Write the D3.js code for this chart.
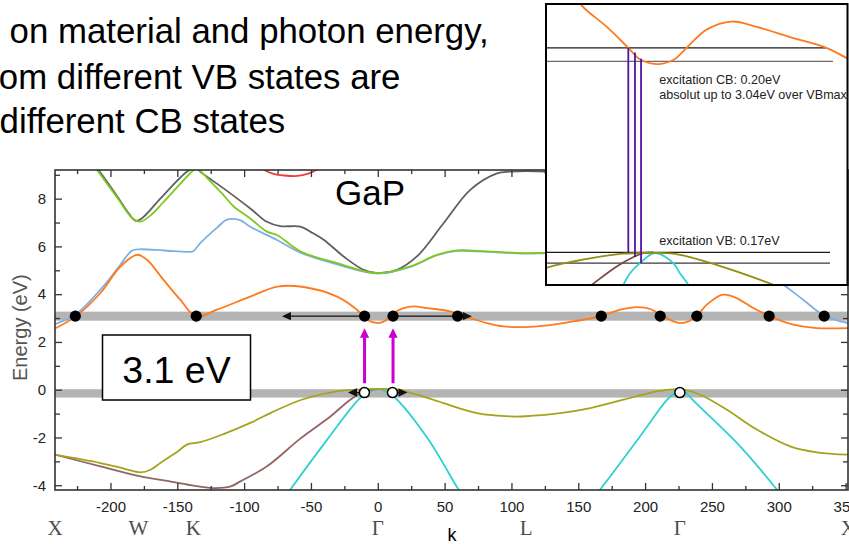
<!DOCTYPE html>
<html>
<head>
<meta charset="utf-8">
<script src="https://cdn.jsdelivr.net/npm/d3@7"></script>
<style>
  html, body { margin: 0; padding: 0; background: #fff; overflow: hidden; }
  svg { display: block; }
  text { font-family: "Liberation Sans", Arial, Helvetica, sans-serif; }
</style>
</head>
<body>
<svg id="chart" width="849" height="544"></svg>
<script>
// ---------------- data ----------------
// Headline (the slide text runs off the left edge of the page)
const headlineLines = [
  "Depending on material and photon energy,",
  "electrons from different VB states are",
  "excited to different CB states"
];
const headlineHiddenChars = [10, 12, 11];

// Axis ticks
const kMajorTicks = [-200, -150, -100, -50, 0, 50, 100, 150, 200, 250, 300, 350];
const kMinorTicks = [-225, -175, -125, -75, -25, 25, 75, 125, 175, 225, 275, 325];
const energyMajorTicks = [-4, -2, 0, 2, 4, 6, 8];
const energyMinorTicks = [-3, -1, 1, 3, 5, 7, 9];

// High-symmetry points along the k path
const symmetryLabels = ["X", "W", "K", "Γ", "L", "Γ", "X"];
const symmetryK = [-241.5, -179, -138, 0, 111, 226, 352];

// Band structure of GaP, [k, energy in eV]
const bandRed = [[-95, 9.6], [-85, 9.2], [-78, 9.04], [-70, 8.97], [-60, 8.95], [-52, 9.05], [-46, 9.2], [-40, 9.45]];
const bandGray = [[-215, 9.6], [-209, 9.2], [-195, 8.1], [-186, 7.35], [-181, 7.07], [-176, 7.2], [-162.7, 8.0], [-142.8, 9.13], [-136, 9.3],
  [-132.8, 9.13], [-115.4, 8.43], [-95.4, 7.59], [-83, 7.03], [-73, 6.85], [-58, 6.83], [-50, 6.6], [-40.5, 6.28], [-25.6, 5.58],
  [-10.6, 5.02], [0, 4.88], [14.4, 5.02], [29.3, 5.58], [49.2, 6.97], [69.2, 8.37], [89.2, 9.06], [99, 9.13], [126, 9.13],
  [150, 9.0], [180, 7.5], [205, 5.6], [226, 4.88], [248, 5.6], [275, 7.4], [305, 8.6], [352, 9.1]];
const bandGreen = [[-215, 9.6], [-210, 9.2], [-195, 8.05], [-184, 7.2], [-177.6, 7.04], [-170, 7.3], [-160.3, 7.86], [-137.8, 9.2], [-135, 9.3],
  [-132, 9.12], [-115.4, 8.15], [-107.8, 7.67], [-95.4, 7.17], [-82.9, 6.62], [-75.4, 6.48], [-58, 5.8], [-30.5, 5.3], [0, 4.88],
  [24.3, 5.16], [44.3, 5.65], [59.2, 5.83], [81.7, 5.79], [109, 5.72], [136.5, 5.72], [165, 5.55], [200, 5.1], [226, 4.88],
  [255, 5.5], [290, 6.3], [352, 6.6]];
const bandBlue = [[-241.5, 2.75], [-226, 3.15], [-207.5, 4.19], [-195, 5.05], [-184, 5.82], [-178, 5.88], [-160, 5.83], [-141.5, 5.77],
  [-138, 5.8], [-132.8, 6.14], [-120, 6.8], [-112.8, 7.12], [-103, 7.1], [-95.4, 6.82], [-75.4, 6.27], [-58, 5.74], [-30.5, 5.25],
  [0, 4.86], [24.3, 5.14], [44.3, 5.63], [59.2, 5.81], [81.7, 5.77], [109, 5.7], [136.5, 5.7], [170, 5.4], [200, 5.0], [226, 4.86],
  [250, 5.1], [275, 5.1], [292, 4.8], [301.6, 4.47], [318, 3.78], [334, 3.1], [352, 2.79]];
const bandOrange = [[-241.5, 2.56], [-226, 3.07], [-207.5, 4.05], [-192.6, 5.16], [-180, 5.65], [-172.7, 5.44], [-160.3, 4.6],
  [-147.8, 3.77], [-136, 3.07], [-120.4, 3.35], [-95.4, 3.9], [-75, 4.32], [-55.5, 4.3], [-30.5, 3.9], [-15.6, 3.35], [-8.1, 2.93],
  [0.6, 2.79], [6.9, 2.93], [11.8, 3.21], [19.3, 3.42], [26.8, 3.49], [36.8, 3.42], [54.2, 3.28], [69.2, 3.0], [81.7, 2.79],
  [94.1, 2.65], [110, 2.62], [125, 2.68], [146.4, 2.86], [166.4, 3.07], [181.4, 3.35], [193.9, 3.46], [204, 3.38], [211.3, 3.14],
  [221.2, 2.86], [226.3, 2.79], [232.5, 2.86], [238.8, 3.1], [246.2, 3.56], [257.5, 3.97], [266, 3.9], [281, 3.42], [293.6, 3.07],
  [311, 2.72], [328.5, 2.58], [352, 2.58]];
const bandBrown = [[-241.5, -2.72], [-207.5, -3.21], [-177.6, -3.63], [-160, -3.8], [-142.8, -3.97], [-122.8, -4.12], [-110, -4.05],
  [-102.8, -3.84], [-82.9, -3.21], [-58, -2.05], [-35.5, -1.12], [-20.6, -0.42], [-10.6, -0.07], [0, 0.03]];
const bandOlive = [[-241.5, -2.72], [-207.5, -3.07], [-190, -3.3], [-177.6, -3.46], [-170, -3.35], [-162.7, -3.07], [-150, -2.6],
  [-142.8, -2.3], [-132.8, -2.2], [-115, -1.85], [-95.4, -1.39], [-80.4, -0.98], [-57, -0.42], [-30.5, -0.07], [-15.6, 0], [0, 0.03],
  [14.4, 0], [29.3, -0.21], [49.2, -0.56], [74.2, -0.98], [99.1, -1.12], [114, -1.1], [136.5, -0.98], [159, -0.77], [183.8, -0.42],
  [208.8, -0.07], [226, 0.02], [241.2, -0.21], [261.2, -0.84], [283.6, -1.67], [308.5, -2.37], [328.5, -2.62], [352, -2.72]];
const bandCyanA = [[-70, -4.55], [-65.4, -4.18], [-38, -2.1], [-15, -0.45], [-8, -0.12], [-3, -0.01], [0, 0.03], [3, -0.01],
  [8, -0.12], [15, -0.45], [38, -2.1], [60.4, -4.18], [65, -4.55]];
const bandCyanB = [[161, -4.55], [166.4, -4.18], [196.3, -1.95], [216, -0.45], [222.5, -0.12], [226, 0.02], [230, -0.1],
  [236, -0.45], [271.1, -2.37], [298.6, -4.18], [303, -4.5]];

// Energy windows (grey bars) and the states marked on them
const windowBands = [[2.89, 3.27], [-0.33, 0.02]];
const cbStateK = [-226.3, -135.8, -9.9, 11.4, 59.7, 167.2, 211.3, 238.7, 292.8, 334];
const cbStateE = 3.08;
const vbStateK = [-10, 11, 226];
const vbStateE = -0.12;
// Horizontal arrows: [from k, to k, energy]
const stateArrows = [[-9.9, -71.7, 3.08], [11.4, 70.4, 3.08], [-10, -22.3, -0.12], [11, 22.2, -0.12]];
// Optical transitions: [k, from eV, to eV]
const photonArrows = [[-9.9, 0.27, 2.57], [11.4, 0.27, 2.57]];
const photonLabel = "3.1 eV";
const materialLabel = "GaP";

// Close-up around Γ
const insetOrange = [[-30, 3.95], [-25.9, 3.67], [-17.2, 3.35], [-9.8, 3.04], [-5.8, 2.87], [0, 2.8], [5.7, 2.86], [10.3, 3.04],
  [17.2, 3.31], [25.9, 3.43], [34.5, 3.35], [46, 3.2], [58.6, 3.04], [66, 2.88], [69, 2.83]];
const insetOlive = [[-40, -0.25], [-38.2, -0.22], [-23, -0.08], [-11.5, -0.01], [-3.4, 0.0], [5.7, -0.01], [17.2, -0.13],
  [28.7, -0.29], [40.2, -0.47], [45, -0.56]];
const insetBrown = [[-24, -0.52], [-22.4, -0.47], [-13.8, -0.2], [-8, -0.06], [-4.6, 0], [-1.2, 0.01]];
const insetCyan = [[-12.5, -0.55], [-11.5, -0.47], [-9.2, -0.3], [-5.8, -0.15], [-0.6, 0.0], [5.7, -0.15], [8, -0.3],
  [10.9, -0.47], [12, -0.55]];
// Reference levels in the close-up: [energy, k where the line stops]
const insetLevels = [[3.04, 58.6], [2.84, 60.8], [0.01, 59.8], [-0.15, 59.8]];
// Transitions in the close-up: [k, VB energy, CB energy]
const insetTransitions = [[-9.8, 0.0, 3.04], [-7.5, -0.06, 2.97], [-5.4, -0.15, 2.88]];
const insetNotes = ["excitation CB: 0.20eV", "absolut up to 3.04eV over VBmax", "excitation VB: 0.17eV"];

// ---------------- drawing ----------------
const svg = d3.select("#chart");
const plot = { left: 55, right: 848, top: 170, bottom: 490 };

const x = d3.scaleLinear().domain([-241.5, 351.8]).range([plot.left, plot.right]);
const y = d3.scaleLinear().domain([-4.2, 9.2]).range([plot.bottom, plot.top]);

const defs = svg.append("defs");
defs.append("clipPath").attr("id", "plotClip")
  .append("rect").attr("x", plot.left).attr("y", plot.top)
  .attr("width", plot.right - plot.left).attr("height", plot.bottom - plot.top);

// grey energy windows
svg.append("g").selectAll("rect").data(windowBands).join("rect")
  .attr("x", plot.left).attr("width", plot.right - plot.left)
  .attr("y", d => y(d[1])).attr("height", d => y(d[0]) - y(d[1]))
  .attr("fill", "#b4b4b4");

// band curves
const line = d3.line().x(d => x(d[0])).y(d => y(d[1])).curve(d3.curveCatmullRom.alpha(0.5));
const bands = [
  [bandRed, "#ee3b3b"], [bandGray, "#5f5f5f"], [bandBlue, "#7eafe6"], [bandGreen, "#80c81e"],
  [bandOrange, "#ff7a1f"], [bandCyanA, "#2dd0d3"], [bandCyanB, "#2dd0d3"], [bandBrown, "#946464"], [bandOlive, "#a4a41c"]
];
const gBands = svg.append("g").attr("clip-path", "url(#plotClip)");
bands.forEach(([pts, col]) => {
  gBands.append("path").attr("d", line(pts)).attr("fill", "none")
    .attr("stroke", col).attr("stroke-width", 1.8).attr("stroke-linejoin", "round");
});

// frame with inward ticks on all four sides
const gAx = svg.append("g").attr("class", "axes");
const plainNumber = d => String(d);
function styleAxis(g) {
  g.select(".domain").remove();
  g.selectAll(".tick line").attr("stroke", "#333").attr("stroke-width", 1.3);
  g.selectAll("text").attr("fill", "#222").attr("font-size", 15)
    .attr("font-family", '"Liberation Sans", Arial, sans-serif');
}
gAx.append("g").attr("transform", `translate(0,${plot.bottom})`)
  .call(d3.axisBottom(x).tickValues(kMajorTicks).tickSize(-7).tickPadding(11).tickFormat(plainNumber))
  .call(styleAxis);
gAx.append("g").attr("transform", `translate(0,${plot.bottom})`)
  .call(d3.axisBottom(x).tickValues(kMinorTicks).tickSize(-4).tickFormat(""))
  .call(styleAxis);
gAx.append("g").attr("transform", `translate(0,${plot.top})`)
  .call(d3.axisTop(x).tickValues(kMajorTicks).tickSize(-7).tickFormat(""))
  .call(styleAxis);
gAx.append("g").attr("transform", `translate(0,${plot.top})`)
  .call(d3.axisTop(x).tickValues(kMinorTicks).tickSize(-4).tickFormat(""))
  .call(styleAxis);
gAx.append("g").attr("transform", `translate(${plot.left},0)`)
  .call(d3.axisLeft(y).tickValues(energyMajorTicks).tickSize(-7).tickPadding(9).tickFormat(plainNumber))
  .call(styleAxis);
gAx.append("g").attr("transform", `translate(${plot.left},0)`)
  .call(d3.axisLeft(y).tickValues(energyMinorTicks).tickSize(-5).tickFormat(""))
  .call(styleAxis);
gAx.append("g").attr("transform", `translate(${plot.right},0)`)
  .call(d3.axisRight(y).tickValues(energyMajorTicks).tickSize(-7).tickFormat(""))
  .call(styleAxis);
gAx.append("g").attr("transform", `translate(${plot.right},0)`)
  .call(d3.axisRight(y).tickValues(energyMinorTicks).tickSize(-5).tickFormat(""))
  .call(styleAxis);
gAx.append("rect").attr("x", plot.left).attr("y", plot.top)
  .attr("width", plot.right - plot.left).attr("height", plot.bottom - plot.top)
  .attr("fill", "none").attr("stroke", "#333").attr("stroke-width", 1.6);

// axis titles
svg.append("text").attr("transform", `translate(27,${y(2.6)}) rotate(-90)`)
  .attr("text-anchor", "middle").attr("font-size", 20).attr("fill", "#555").text("Energy (eV)");
svg.append("g").selectAll("text").data(symmetryLabels).join("text")
  .attr("x", (d, i) => x(symmetryK[i])).attr("y", 535)
  .attr("text-anchor", "middle").attr("font-size", 21).attr("fill", "#4d4d4d")
  .style("font-family", '"Liberation Serif", "Times New Roman", serif')
  .text(d => d);
svg.append("text").attr("x", x(55.5)).attr("y", 541).attr("text-anchor", "middle")
  .attr("font-size", 18).attr("fill", "#000").text("k");

// horizontal arrows along the windows
function arrowHead(g, tipX, tipY, dirX, dirY, len, half, col) {
  const bx = tipX - dirX * len, by = tipY - dirY * len;
  const px = -dirY, py = dirX;
  g.append("path")
    .attr("d", `M${tipX},${tipY}L${bx + px * half},${by + py * half}L${bx - px * half},${by - py * half}Z`)
    .attr("fill", col);
}
const gArrows = svg.append("g");
stateArrows.forEach(([k0, k1, e]) => {
  const x0 = x(k0), x1 = x(k1), yy = y(e);
  const dir = Math.sign(x1 - x0);
  gArrows.append("line").attr("x1", x0).attr("x2", x1 - dir * 6).attr("y1", yy).attr("y2", yy)
    .attr("stroke", "#111").attr("stroke-width", 1.2);
  arrowHead(gArrows, x1, yy, dir, 0, 9, 4.2, "#111");
});

// optical transitions
photonArrows.forEach(([k, e0, e1]) => {
  const xx = x(k), y0 = y(e0), y1 = y(e1);
  gArrows.append("line").attr("x1", xx).attr("x2", xx).attr("y1", y0).attr("y2", y1 + 6)
    .attr("stroke", "#cc00cc").attr("stroke-width", 3);
  arrowHead(gArrows, xx, y1, 0, -1, 9.5, 4.6, "#cc00cc");
});

// states on the windows
svg.append("g").selectAll("circle").data(cbStateK).join("circle")
  .attr("cx", d => x(d)).attr("cy", y(cbStateE)).attr("r", 5.6).attr("fill", "#000");
svg.append("g").selectAll("circle").data(vbStateK).join("circle")
  .attr("cx", d => x(d)).attr("cy", y(vbStateE)).attr("r", 5)
  .attr("fill", "#fff").attr("stroke", "#000").attr("stroke-width", 1.5);

// photon energy box
svg.append("rect").attr("x", 102.5).attr("y", 335).attr("width", 148).attr("height", 65)
  .attr("fill", "#fff").attr("stroke", "#000").attr("stroke-width", 1.5);
svg.append("text").attr("x", 176.5).attr("y", 382.5).attr("text-anchor", "middle")
  .attr("font-size", 37.5).attr("fill", "#000").text(photonLabel);

// material name
svg.append("text").attr("x", 370).attr("y", 205).attr("text-anchor", "middle")
  .attr("font-size", 35).attr("fill", "#000").text(materialLabel);

// ---------------- close-up around Γ ----------------
const inset = { left: 546, right: 847.5, top: 4, bottom: 285 };
const ix = d3.scaleLinear().domain([-38.2, 66]).range([inset.left, 848]);
const iy = d3.scaleLinear().domain([-0.474, 3.69]).range([inset.bottom, inset.top]);
defs.append("clipPath").attr("id", "insetClip")
  .append("rect").attr("x", inset.left).attr("y", inset.top)
  .attr("width", inset.right - inset.left).attr("height", inset.bottom - inset.top);

const gIn = svg.append("g");
gIn.append("rect").attr("x", inset.left).attr("y", inset.top)
  .attr("width", inset.right - inset.left).attr("height", inset.bottom - inset.top)
  .attr("fill", "#fff");
const gInC = gIn.append("g").attr("clip-path", "url(#insetClip)");
const iline = d3.line().x(d => ix(d[0])).y(d => iy(d[1])).curve(d3.curveCatmullRom.alpha(0.5));
const levelColors = ["#1a1a1a", "#6a6a6a", "#1a1a1a", "#3a3a3a"];
insetLevels.forEach(([e, kEnd], i) => {
  gInC.append("line").attr("x1", inset.left).attr("x2", ix(kEnd)).attr("y1", iy(e)).attr("y2", iy(e))
    .attr("stroke", levelColors[i]).attr("stroke-width", 1.3);
});
[[insetOrange, "#ff7a1f"], [insetCyan, "#2dd0d3"], [insetBrown, "#7a4a4a"], [insetOlive, "#8f8f10"]]
  .forEach(([pts, col]) => {
    gInC.append("path").attr("d", iline(pts)).attr("fill", "none")
      .attr("stroke", col).attr("stroke-width", 1.8);
  });
insetTransitions.forEach(([k, e0, e1]) => {
  gInC.append("line").attr("x1", ix(k)).attr("x2", ix(k)).attr("y1", iy(e0)).attr("y2", iy(e1))
    .attr("stroke", "#5213a8").attr("stroke-width", 1.8);
});
gIn.append("g").selectAll("text").data(insetNotes).join("text")
  .attr("x", 659.3).attr("y", (d, i) => [84, 98.8, 245][i])
  .attr("font-size", 12.6).attr("fill", "#222").text(d => d);
gIn.append("rect").attr("x", inset.left).attr("y", inset.top)
  .attr("width", inset.right - inset.left).attr("height", inset.bottom - inset.top)
  .attr("fill", "none").attr("stroke", "#000").attr("stroke-width", 2);

// ---------------- headline ----------------
const headX = [9.6, -1.2, -0.4];
const headY = [43.3, 89.3, 133.3];
const gHead = svg.append("g");
headlineLines.forEach((t, i) => {
  const el = gHead.append("text").attr("x", 0).attr("y", headY[i])
    .attr("font-size", 34.8).attr("fill", "#000").text(t);
  const lead = el.node().getSubStringLength(0, headlineHiddenChars[i]);
  el.attr("x", headX[i] - lead);
});
</script>
</body>
</html>
